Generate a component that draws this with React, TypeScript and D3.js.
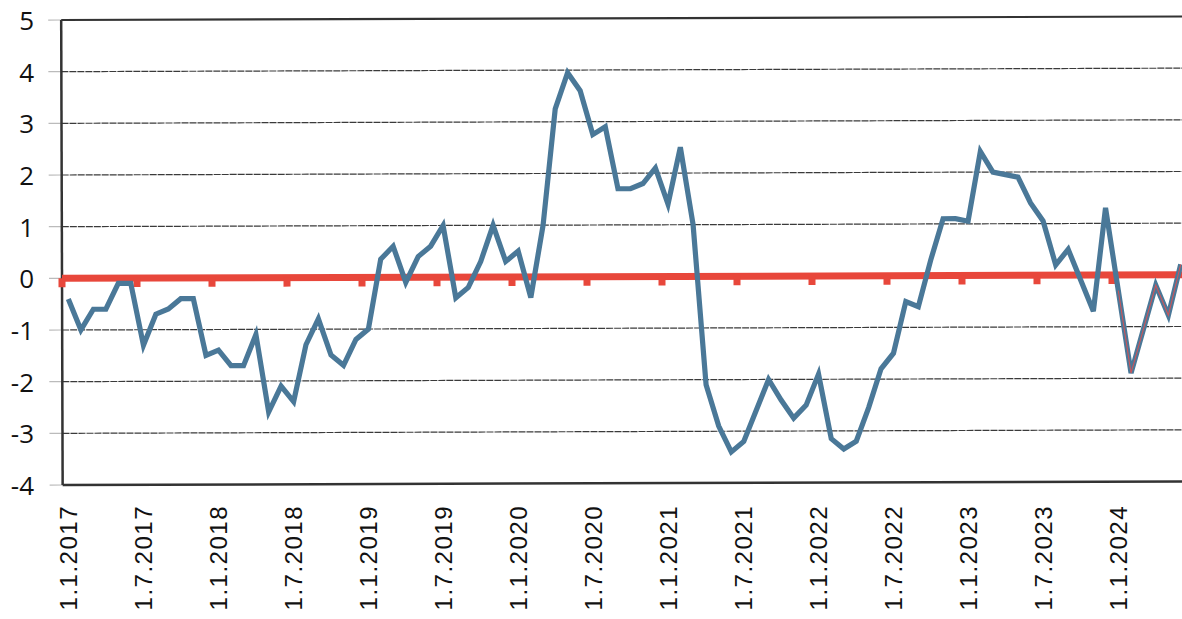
import React from "react";
import * as d3 from "d3";

const tickLabels = [
  "1.1.2017", "1.7.2017", "1.1.2018", "1.7.2018", "1.1.2019", "1.7.2019",
  "1.1.2020", "1.7.2020", "1.1.2021", "1.7.2021", "1.1.2022", "1.7.2022",
  "1.1.2023", "1.7.2023", "1.1.2024",
];

const yTicks = [5, 4, 3, 2, 1, 0, -1, -2, -3, -4];

// monthly values, Jan 2017 .. Jun 2024
const values = [
  -0.4, -1.0, -0.6, -0.6, -0.1, -0.1, -1.3, -0.7, -0.6, -0.4, -0.4, -1.5,
  -1.4, -1.7, -1.7, -1.1, -2.6, -2.1, -2.4, -1.3, -0.8, -1.5, -1.7, -1.2,
  -1.0, 0.35, 0.6, -0.1, 0.4, 0.6, 1.0, -0.4, -0.2, 0.3, 1.0, 0.3,
  0.5, -0.4, 1.0, 3.25, 3.95, 3.6, 2.75, 2.9, 1.7, 1.7, 1.8, 2.1,
  1.4, 2.5, 1.0, -2.1, -2.9, -3.4, -3.2, -2.6, -2.0, -2.4, -2.75, -2.5,
  -1.9, -3.15, -3.35, -3.2, -2.55, -1.8, -1.5, -0.5, -0.6, 0.3, 1.1, 1.1,
  1.05, 2.4, 2.0, 1.95, 1.9, 1.4, 1.05, 0.2, 0.5, -0.1, -0.7, 1.3,
  -0.3, -1.9, -1.05, -0.2, -0.78, 0.2,
];

// the overlaid thin red segment (from index 84 on)
const overlayStart = 84;
const baseline = 0;
const monthsPerTick = 6;

const W = 1182;
const H = 619;
const left = 62;
const top = 20;
const bottom = 485;
const monthW = 12.5;
const nMonths = 90;

export default function App() {
  const x = d3.scaleLinear().domain([0, nMonths]).range([left, left + monthW * nMonths]);
  const y = d3.scaleLinear().domain([-4, 5]).range([bottom, top]);

  const line = d3
    .line<number>()
    .x((_, i) => x(i + 0.5))
    .y((d) => y(d));

  const overlayLine = d3
    .line<number>()
    .x((_, i) => x(i + overlayStart + 0.5))
    .y((d) => y(d));

  const right = x(nMonths);
  const tickIdx = tickLabels.map((_, k) => k * monthsPerTick);

  return (
    <svg
      width={W}
      height={H}
      style={{ position: "absolute", left: 0, top: 0, background: "#fff", overflow: "hidden" }}
    >
      <rect x={0} y={0} width={W} height={H} fill="#fff" />
      <g transform={`rotate(-0.18 ${left} ${y(0)})`}>
        {/* grid lines */}
        {yTicks
          .filter((t) => t > -4 && t < 5)
          .map((t) => (
            <line
              key={"g" + t}
              x1={left}
              x2={right}
              y1={y(t)}
              y2={y(t)}
              stroke="#3a3a3a"
              strokeWidth={1.2}
              strokeDasharray="7 1"
            />
          ))}
        {/* y tick marks */}
        {yTicks.map((t) => (
          <line
            key={"yt" + t}
            x1={left - 13}
            x2={left}
            y1={y(t)}
            y2={y(t)}
            stroke="#bbb"
            strokeWidth={1.2}
          />
        ))}
        {/* plot border */}
        <line x1={left} x2={right} y1={top} y2={top} stroke="#333" strokeWidth={2.2} />
        <line x1={left} x2={right} y1={bottom} y2={bottom} stroke="#333" strokeWidth={2.5} />
        <line x1={left} x2={left} y1={top} y2={bottom} stroke="#333" strokeWidth={2.5} />

        {/* red zero axis with tick tabs */}
        <line
          x1={left}
          x2={right}
          y1={y(baseline)}
          y2={y(baseline)}
          stroke="#e8473b"
          strokeWidth={7}
        />
        {tickIdx.map((i) => (
          <rect
            key={"rt" + i}
            x={x(i) - 3.5}
            y={y(baseline)}
            width={7}
            height={9}
            fill="#e8473b"
          />
        ))}

        {/* blue series */}
        <path
          d={line(values) || ""}
          fill="none"
          stroke="#4a7898"
          strokeWidth={5.2}
          strokeLinejoin="miter"
          strokeMiterlimit={4}
        />
        <path
          d={overlayLine(values.slice(overlayStart)) || ""}
          fill="none"
          stroke="#e05050"
          strokeWidth={1.1}
          opacity={0.85}
        />
      </g>

      {/* y labels */}
      {yTicks.map((t) => (
        <text
          key={"yl" + t}
          x={34}
          y={y(t)}
          textAnchor="end"
          dominantBaseline="central"
          fontFamily="'Open Sans', sans-serif"
          fontSize={26}
          fill="#111"
        >
          {t}
        </text>
      ))}

      {/* x labels */}
      {tickLabels.map((lab, k) => {
        const cx = x(tickIdx[k] + 0.5);
        return (
          <text
            key={"xl" + k}
            transform={`translate(${cx},505) rotate(-90)`}
            textAnchor="end"
            dominantBaseline="central"
            fontFamily="'Liberation Sans', Arial, sans-serif"
            fontSize={24}
            letterSpacing={1.5}
            fill="#111"
          >
            {lab}
          </text>
        );
      })}
    </svg>
  );
}
